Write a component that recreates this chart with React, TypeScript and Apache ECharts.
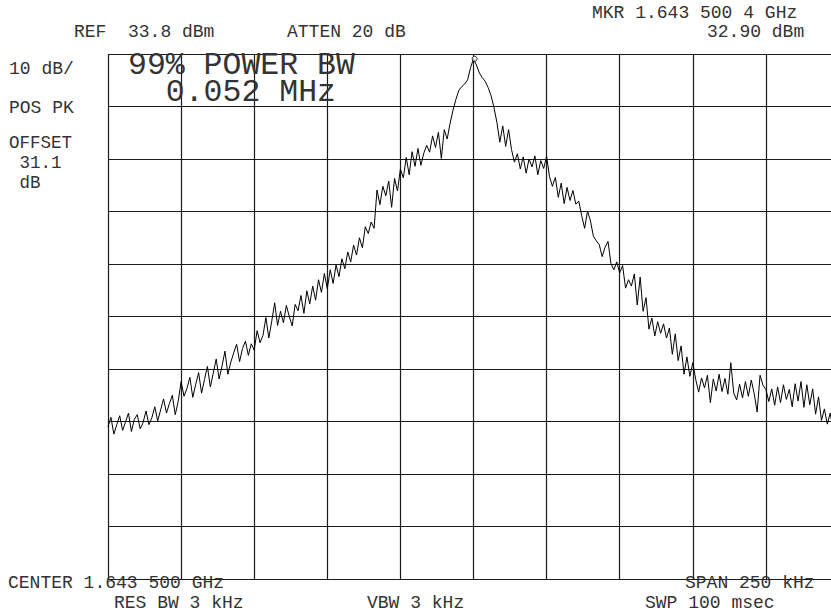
import React, { useEffect, useRef } from "react";
import * as echarts from "echarts";

// Analyzer settings
const REF_LEVEL_DBM = 33.8;
const DB_PER_DIV = 10;
const DIVISIONS = 10;
const SPAN_KHZ = 250;
const MARKER_OFFSET_KHZ = 0.4; // marker at 1.643 500 4 GHz
const MARKER_LEVEL_DBM = 32.9;

// Trace levels in dBm, one per kHz of offset from center (-125 .. +125 kHz)
const lowerSkirt = [
  -37.2, -35.4, -38.6, -36.8, -35.1, -37.9, -36.3, -34.6, -38.1, -35.8,
  -34.9, -37.6, -36.4, -34.2, -36.8, -35.5, -33.4, -36.1, -34.0, -31.9,
  -34.6, -32.8, -31.2, -34.9, -32.4, -28.6, -31.4, -29.9, -27.8, -31.6,
  -29.1, -26.9, -30.8, -28.2, -25.7, -29.6, -27.0, -24.3, -28.1, -25.6,
  -22.8, -27.2, -24.9, -23.1, -21.5, -24.8, -22.3, -20.9, -23.6, -21.4,
  -22.6, -18.9, -21.2, -19.8, -16.4, -20.3, -17.1, -13.6, -17.9, -15.2,
  -17.4, -14.1, -16.2, -18.0, -13.9, -15.1, -12.2, -15.6, -11.3, -13.8,
  -10.4, -13.1, -9.2, -11.6, -8.0, -10.9, -7.3, -9.9, -6.4, -8.6,
  -5.2, -7.1, -3.9, -5.8, -2.6, -4.5, -1.2, -3.1, 0.9, -0.4,
];
const lowerShoulder = [
  1.8, 0.6, 7.9, 5.1, 8.6, 6.8, 9.6, 4.6, 10.1, 7.7,
  11.9, 10.2, 14.1, 10.8, 15.2, 12.4, 15.8, 12.6, 14.9, 16.4,
  15.1, 18.2, 16.0, 18.9, 13.9, 19.4, 17.6, 20.6, 23.1, 25.2,
];
const carrierPeak = [26.9, 27.6, 28.1, 28.9, 31.2, 32.9, 31.7, 30.2, 29.3, 28.6, 27.4, 25.9, 23.6];
const upperShoulder = [
  20.8, 17.0, 20.1, 16.2, 19.4, 15.6, 13.2,
  14.8, 11.9, 14.2, 11.1, 13.8, 12.3, 14.4, 10.8, 13.5, 12.0, 14.3,
  10.4, 8.6, 10.3, 6.5, 9.2, 5.3, 8.4, 5.9, 7.8, 5.2,
];
const upperSkirt = [
  5.8, 3.0, 0.6, 3.9, 2.0, -0.9, -1.8, -2.5, -4.8, -3.0,
  -1.9, -6.1, -7.3, -5.8, -7.9, -6.5, -10.8, -9.2, -10.4, -8.1,
  -14.0, -8.7, -15.2, -12.6, -18.6, -16.5, -19.9, -17.2, -19.4, -17.6,
  -20.3, -18.4, -23.4, -19.5, -24.6, -21.8, -27.2, -23.9, -27.6, -25.0,
];
const noiseFloor = [
  -28.2, -30.6, -27.9, -29.8, -27.4, -32.6, -28.1, -30.4, -27.2, -30.5,
  -28.0, -31.0, -25.0, -30.8, -32.1, -29.1, -31.7, -28.6, -31.4, -28.3,
  -30.9, -34.4, -27.4, -29.3, -30.1, -32.4, -30.0, -33.1, -29.6, -32.6,
  -29.2, -32.0, -30.1, -33.4, -29.0, -32.3, -28.6, -33.5, -29.2, -33.0,
  -30.0, -34.8, -31.5, -36.0, -33.8, -36.7, -34.6, -37.8, -35.4, -37.2,
];

const traceLevels = [
  ...lowerSkirt,
  ...lowerShoulder,
  ...carrierPeak,
  ...upperShoulder,
  ...upperSkirt,
  ...noiseFloor,
];
// sweep points are 1 kHz apart, starting at the lower span edge
const sweepOffsetsKHz = traceLevels.map((_, i) => -SPAN_KHZ / 2 + i);

const FONT = "'Liberation Mono', 'DejaVu Sans Mono', monospace";
const INK = "#1a1a1a";
const TEXT_INK = "#333333";

// [text, x, y (middle), font size, line height]
const annotations: Array<[string, number, number, number, number]> = [
  ["REF  33.8 dBm", 74, 32, 18, 18],
  ["ATTEN 20 dB", 287, 32, 18, 18],
  ["MKR 1.643 500 4 GHz", 592, 13, 18, 18],
  ["32.90 dBm", 707, 32, 18, 18],
  ["10 dB/", 9, 69, 18, 18],
  ["POS PK", 9, 108, 18, 18],
  ["OFFSET\n 31.1\n dB", 9, 163, 17.5, 20],
  ["99% POWER BW\n  0.052 MHz", 128, 78.5, 31.5, 27],
  ["CENTER 1.643 500 GHz", 8, 583, 18, 18],
  ["RES BW 3 kHz", 114, 603, 18, 18],
  ["VBW 3 kHz", 367, 603, 18, 18],
  ["SPAN 250 kHz", 685, 583, 18, 18],
  ["SWP 100 msec", 645, 603, 18, 18],
];

export default function App() {
  const ref = useRef<HTMLDivElement>(null);

  useEffect(() => {
    if (!ref.current) return;
    const chart = echarts.init(ref.current, undefined, { renderer: "svg" });
    const bottomLevel = REF_LEVEL_DBM - DB_PER_DIV * DIVISIONS;

    chart.setOption({
      animation: false,
      backgroundColor: "#ffffff",
      grid: { left: 108, top: 54, width: 731, height: 525 },
      xAxis: {
        type: "value",
        min: -SPAN_KHZ / 2,
        max: SPAN_KHZ / 2,
        interval: SPAN_KHZ / DIVISIONS,
        axisLine: { show: false },
        axisTick: { show: false },
        axisLabel: { show: false },
        splitLine: { show: true, lineStyle: { color: INK, width: 1.2 } },
      },
      yAxis: [
        {
          type: "value",
          min: bottomLevel,
          max: REF_LEVEL_DBM,
          axisLine: { show: false },
          axisTick: { show: false },
          axisLabel: { show: false },
          splitLine: { show: false },
        },
        {
          // graticule divisions
          type: "value",
          min: 0,
          max: DIVISIONS,
          interval: 1,
          position: "left",
          axisLine: { show: false },
          axisTick: { show: false },
          axisLabel: { show: false },
          splitLine: { show: true, lineStyle: { color: INK, width: 1.2 } },
        },
      ],
      series: [
        {
          type: "line",
          yAxisIndex: 0,
          data: sweepOffsetsKHz.map((f, i) => [f, traceLevels[i]]),
          showSymbol: false,
          lineStyle: { color: "#000", width: 1 },
          silent: true,
          z: 5,
        },
        {
          type: "scatter",
          yAxisIndex: 0,
          data: [[MARKER_OFFSET_KHZ, MARKER_LEVEL_DBM]],
          symbol: "circle",
          symbolSize: 5,
          itemStyle: { color: "#fff", borderColor: "#000", borderWidth: 1 },
          z: 6,
        },
      ],
      graphic: annotations.map(([text, x, y, size, lineHeight]) => ({
        type: "text",
        x,
        y,
        z: 10,
        style: {
          text,
          font: `${size}px ${FONT}`,
          lineHeight,
          fill: TEXT_INK,
          align: "left",
          verticalAlign: "middle",
          textAlign: "left",
          textVerticalAlign: "middle",
        },
      })),
    });

    return () => chart.dispose();
  }, []);

  return (
    <div
      style={{
        position: "absolute",
        left: 0,
        top: 0,
        width: 831,
        height: 613,
        overflow: "hidden",
      }}
    >
      <div ref={ref} style={{ width: 845, height: 613 }} />
    </div>
  );
}
